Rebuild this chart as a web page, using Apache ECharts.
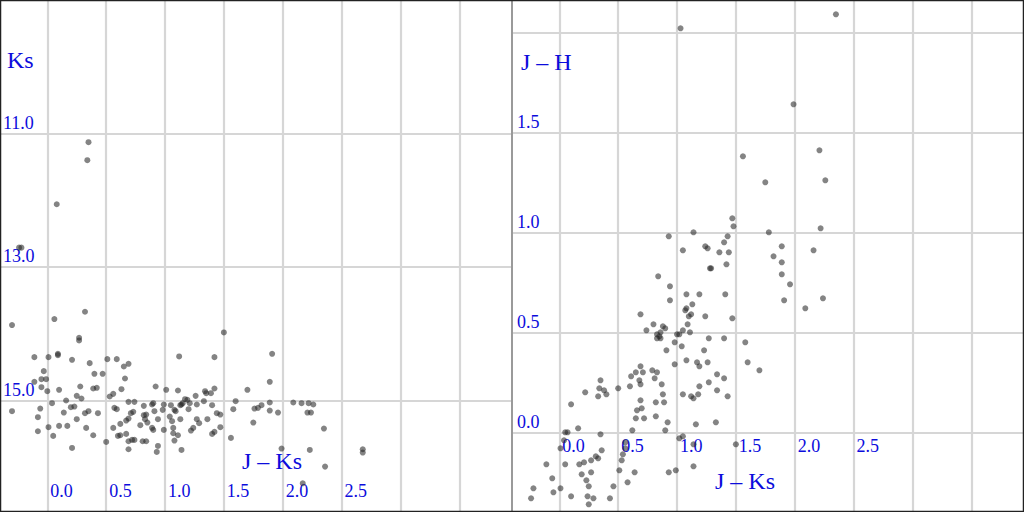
<!DOCTYPE html>
<html>
<head>
<meta charset="utf-8">
<script src="https://cdn.jsdelivr.net/npm/echarts@6/dist/echarts.min.js"></script>
<style>
html,body{margin:0;padding:0;background:#fff;}
#chart{width:1024px;height:512px;}
</style>
</head>
<body>
<div id="chart"></div>
<script>
// ---- Data: left panel (Ks vs J-Ks) ----
const leftJK = [-0.30,0.06,0.32,0.27,0.27,0.09,0.09,-0.11,0.01,0.21,
0.36,0.51,0.59,0.69,0.65,-0.03,0.40,0.47,0.66,-0.05,
-0.01,-0.11,-0.05,0.28,0.39,0.42,0.63,0.10,0.00,-0.30,
-0.06,-0.08,-0.08,0.01,0.05,0.10,0.17,0.04,0.14,0.16,
0.20,0.23,0.25,0.29,0.25,0.32,0.35,0.33,0.39,0.43,
0.21,0.50,0.53,0.56,0.57,0.59,0.56,0.60,0.62,0.62,
0.67,0.69,0.67,0.69,0.74,0.71,0.73,0.69,0.72,0.74,
0.69,0.81,0.84,0.79,0.82,0.84,0.83,0.82,0.90,0.89,
0.92,0.91,0.89,0.90,0.85,0.94,0.98,0.94,0.93,1.01,
0.99,1.05,1.08,1.09,1.04,1.06,1.07,1.07,1.11,1.08,
1.11,1.12,1.13,1.14,1.15,1.17,1.13,1.14,1.21,1.20,
1.19,1.26,1.22,1.24,1.27,1.29,1.27,1.34,1.35,1.33,
1.36,1.39,1.42,1.42,1.40,1.44,1.47,1.40,1.42,1.47,
1.50,1.56,1.58,1.60,1.70,1.76,1.75,1.91,1.89,1.89,
1.79,1.82,1.89,1.96,2.09,2.16,2.22,2.26,2.21,2.24,
2.35,1.99,2.23,2.36,2.17,2.68,2.68,0.35,0.34,0.08,
-0.24,-0.22,0.99];
const leftKs = [13.87,13.78,13.67,14.06,14.10,14.30,14.32,14.35,14.35,14.39,
14.44,14.38,14.38,14.45,14.49,14.56,14.60,14.60,14.67,14.68,
14.68,14.72,14.80,14.79,14.82,14.81,14.83,14.84,14.86,15.16,
15.12,15.25,15.46,15.40,15.53,15.38,15.38,15.04,15.18,15.00,
15.10,15.09,14.93,14.97,15.28,15.19,15.16,15.41,15.52,15.19,
15.71,15.62,14.94,14.90,15.11,15.13,15.41,15.53,15.52,15.35,
15.30,15.27,15.50,15.02,15.02,15.19,15.17,15.61,15.59,15.59,
15.73,15.61,15.61,15.37,15.22,15.21,15.28,15.08,15.04,15.06,
14.79,15.16,15.41,15.44,15.33,15.28,15.14,15.68,15.77,14.84,
15.44,15.07,15.14,15.16,15.24,15.31,15.41,15.49,15.52,15.60,
14.85,14.34,15.07,15.06,15.04,14.98,15.28,15.74,15.04,15.13,
14.99,14.93,15.45,15.41,15.28,15.34,15.06,14.86,14.89,15.01,
15.28,14.89,14.35,14.82,15.07,15.19,15.21,15.50,15.47,15.40,
13.98,15.56,15.13,15.01,14.84,15.12,15.33,14.30,14.72,15.03,
15.11,15.07,15.15,15.18,15.03,15.04,15.04,15.06,15.18,15.18,
15.42,15.72,15.74,15.99,16.24,15.73,15.78,11.13,11.40,12.06,
12.71,12.71,15.06];

// ---- Data: right panel (J-H vs J-Ks) ----
const rightJK = [1.03,2.35,1.99,1.56,2.21,1.75,2.26,1.47,1.48,2.22,
1.14,0.93,1.43,1.78,1.40,1.05,1.24,1.26,1.36,1.44,
1.89,2.16,1.82,1.89,1.89,1.96,1.91,2.09,2.24,1.42,
1.28,1.29,0.84,0.94,0.94,1.08,1.19,1.41,1.13,1.07,
1.08,1.10,1.12,1.24,1.47,0.69,0.80,0.88,0.90,1.09,
1.05,1.11,1.02,0.74,0.83,0.86,0.85,0.83,0.86,1.00,
0.98,1.04,1.27,1.40,1.58,0.91,1.23,1.60,1.70,0.98,
1.08,1.17,1.19,1.26,1.34,1.40,1.27,1.34,1.43,1.19,
1.18,1.05,1.12,1.14,1.16,1.33,0.69,0.65,0.71,0.79,
0.83,0.61,0.68,0.69,0.60,0.81,0.87,0.88,0.89,0.82,
0.69,0.66,0.70,0.65,0.72,0.82,0.92,0.90,0.62,1.02,
1.05,1.14,1.50,0.56,0.54,0.53,0.51,1.14,0.93,0.99,
0.64,0.35,0.34,0.38,0.40,0.22,0.33,0.50,0.10,0.07,
0.05,0.16,0.04,0.35,0.01,0.36,0.56,-0.11,0.05,0.17,
0.21,0.27,0.31,0.33,0.27,0.19,-0.06,0.23,0.25,0.58,
0.46,-0.22,-0.05,0.01,0.24,0.29,-0.24,0.10,0.43,0.25];
const rightJH = [2.02,2.09,1.64,1.38,1.41,1.25,1.26,1.07,1.03,1.02,
1.00,0.98,0.98,1.00,0.95,0.91,0.93,0.92,0.90,0.90,
0.93,0.91,0.88,0.85,0.79,0.74,0.66,0.62,0.67,0.84,
0.82,0.82,0.78,0.73,0.66,0.69,0.69,0.69,0.64,0.61,
0.62,0.58,0.59,0.58,0.57,0.59,0.54,0.53,0.52,0.54,
0.51,0.50,0.49,0.51,0.49,0.50,0.48,0.47,0.47,0.49,
0.45,0.43,0.47,0.47,0.45,0.41,0.41,0.35,0.31,0.34,
0.36,0.35,0.33,0.35,0.29,0.27,0.25,0.21,0.18,0.23,
0.19,0.19,0.18,0.17,0.04,0.05,0.33,0.30,0.30,0.31,
0.30,0.28,0.26,0.24,0.23,0.27,0.24,0.19,0.15,0.15,
0.16,0.11,0.12,0.07,0.07,0.08,0.05,0.01,0.01,-0.03,
-0.02,-0.06,-0.06,-0.08,-0.11,-0.14,-0.19,-0.17,-0.20,-0.19,
-0.20,0.26,0.22,0.21,0.19,0.20,0.18,0.22,0.14,0.00,
0.00,0.02,-0.04,-0.01,-0.08,-0.09,-0.05,-0.16,-0.16,-0.16,
-0.15,-0.14,-0.12,-0.13,-0.20,-0.21,-0.23,-0.24,-0.27,-0.25,
-0.27,-0.28,-0.30,-0.28,-0.32,-0.33,-0.33,-0.32,-0.33,-0.36];

// ---- Ticks / labels ----
const xGridTicks = [0, 0.5, 1.0, 1.5, 2.0, 2.5, 3.0, 3.5];
const xTickLabels = [0, 0.5, 1.0, 1.5, 2.0, 2.5];
const ksGridTicks = [11, 13, 15];
const ksTickLabels = [11, 13, 15];
const jhGridTicks = [0, 0.5, 1.0, 1.5, 2.0];
const jhTickLabels = [0, 0.5, 1.0, 1.5];
const leftXName = 'J – Ks';
const leftYName = 'Ks';
const rightXName = 'J – Ks';
const rightYName = 'J – H';

const BLUE = '#0c0cdc';
const FONT = 'Liberation Serif';
const gridLine = {show: true, lineStyle: {color: '#d6d6d6', width: 2.2}};

function xAxisCfg(gi, labelMargin) {
  return {
    gridIndex: gi, type: 'value', min: -0.402, max: 3.948,
    axisLine: {show: false},
    axisTick: {show: false, customValues: xGridTicks},
    splitLine: gridLine,
    axisLabel: {
      customValues: xTickLabels, inside: true, margin: labelMargin,
      align: 'left', padding: [0, 0, 0, 3],
      color: BLUE, fontFamily: FONT, fontSize: 18,
      formatter: v => v.toFixed(1)
    }
  };
}

const chart = echarts.init(document.getElementById('chart'), null, {renderer: 'svg', width: 1024, height: 512});
chart.setOption({
  animation: false,
  backgroundColor: '#ffffff',
  grid: [
    {left: 0, top: 0, width: 512, height: 512},
    {left: 512, top: 0, width: 512, height: 512}
  ],
  xAxis: [xAxisCfg(0, 12), xAxisCfg(1, 57)],
  yAxis: [
    {
      gridIndex: 0, type: 'value', inverse: true, min: 9.0, max: 16.67,
      axisLine: {show: false},
      axisTick: {show: false, customValues: ksGridTicks},
      splitLine: gridLine,
      axisLabel: {
        customValues: ksTickLabels, inside: true, margin: 3,
        verticalAlign: 'bottom', align: 'left', padding: [0, 0, 2, 0],
        color: BLUE, fontFamily: FONT, fontSize: 18,
        formatter: v => v.toFixed(1)
      }
    },
    {
      gridIndex: 1, type: 'value', min: -0.3985, max: 2.1615,
      axisLine: {show: false},
      axisTick: {show: false, customValues: jhGridTicks},
      splitLine: gridLine,
      axisLabel: {
        customValues: jhTickLabels, inside: true, margin: 5,
        verticalAlign: 'bottom', align: 'left', padding: [0, 0, 1, 0],
        color: BLUE, fontFamily: FONT, fontSize: 18,
        formatter: v => v.toFixed(1)
      }
    }
  ],
  graphic: [
    {type: 'text', z: 50, style: {text: leftYName, x: 7, y: 60, font: '24px "Liberation Serif"', fill: BLUE, textVerticalAlign: 'middle'}},
    {type: 'text', z: 50, style: {text: leftXName, x: 242, y: 461, font: '24px "Liberation Serif"', fill: BLUE, textVerticalAlign: 'middle'}},
    {type: 'text', z: 50, style: {text: rightYName, x: 521, y: 62, font: '24px "Liberation Serif"', fill: BLUE, textVerticalAlign: 'middle'}},
    {type: 'text', z: 50, style: {text: rightXName, x: 715, y: 481, font: '24px "Liberation Serif"', fill: BLUE, textVerticalAlign: 'middle'}},
    {type: 'line', z: 60, shape: {x1: 512, y1: 0, x2: 512, y2: 512}, style: {stroke: '#9a9a9a', lineWidth: 2}},
    {type: 'rect', z: 60, shape: {x: 0.5, y: 0.5, width: 1023, height: 511}, style: {fill: 'none', stroke: '#222', lineWidth: 1.5}}
  ],
  series: [
    {
      type: 'scatter', xAxisIndex: 0, yAxisIndex: 0, symbolSize: 6,
      itemStyle: {color: 'rgba(35,35,35,0.7)'},
      data: leftJK.map((x, i) => [x, leftKs[i]])
    },
    {
      type: 'scatter', xAxisIndex: 1, yAxisIndex: 1, symbolSize: 6,
      itemStyle: {color: 'rgba(35,35,35,0.7)'},
      data: rightJK.map((x, i) => [x, rightJH[i]])
    }
  ]
});
</script>
</body>
</html>
